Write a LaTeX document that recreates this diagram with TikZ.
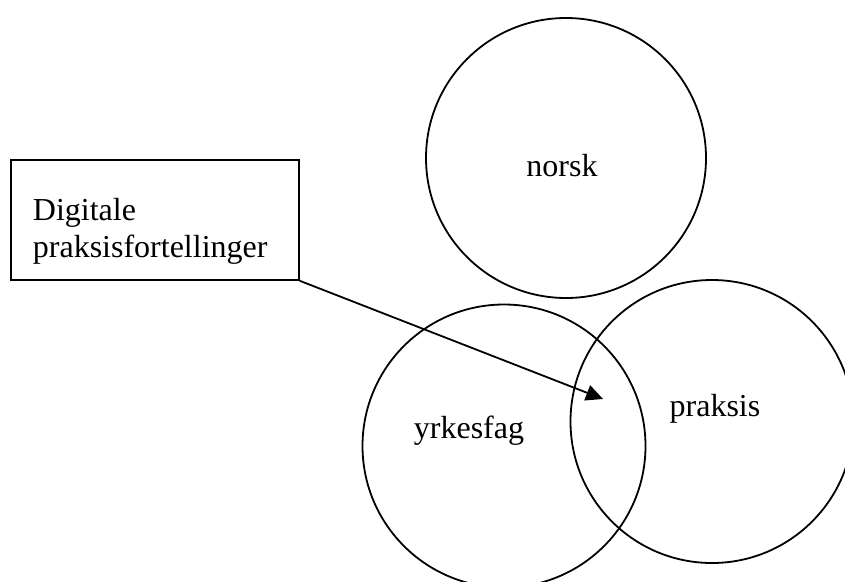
\documentclass[tikz,border=0pt]{standalone}
\usepackage{fontspec}
\setmainfont{Liberation Serif}
\usetikzlibrary{arrows.meta}

\begin{document}
\begin{tikzpicture}[x=1pt, y=-1pt, line width=1.8pt]
    \useasboundingbox (0, 0) rectangle (845, 581);
    \clip (0, 0) rectangle (845, 581);
    {
        \tikzset{every node/.style = {font=\fontsize{32}{37}\selectfont}}
        \tikzset{ring/.style = {shape=circle, draw, line width=1.8pt, inner sep=0pt}}

        % the three circles, text set apart from them
        \node[ring, minimum size=280pt] (norsk) at (566, 158) {};
        \node[ring, minimum size=283pt] (yrkesfag) at (504, 446) {};
        \node[ring, minimum size=283pt] (praksis) at (712, 421.5) {};

        \node[anchor=base] (norsktxt) at (562, 176) {norsk};
        \node[anchor=base] (yrkesfagtxt) at (469, 438) {yrkesfag};
        \node[anchor=base] (praksistxt) at (715, 416) {praksis};

        % the box
        \node[draw, anchor=north west, minimum width=288pt, minimum height=120pt,
              text width=244pt, inner xsep=22pt, align=left, text depth=22pt]
              (fortelling) at (10, 159) {Digitale\\praksisfortellinger};
    }

    \coordinate (snitt) at (603, 399);

    % arrow from the box into the overlap
    \draw[-{Triangle[length=17pt, width=16pt]}] (fortelling.south east) -- (snitt);

\end{tikzpicture}
\end{document}
